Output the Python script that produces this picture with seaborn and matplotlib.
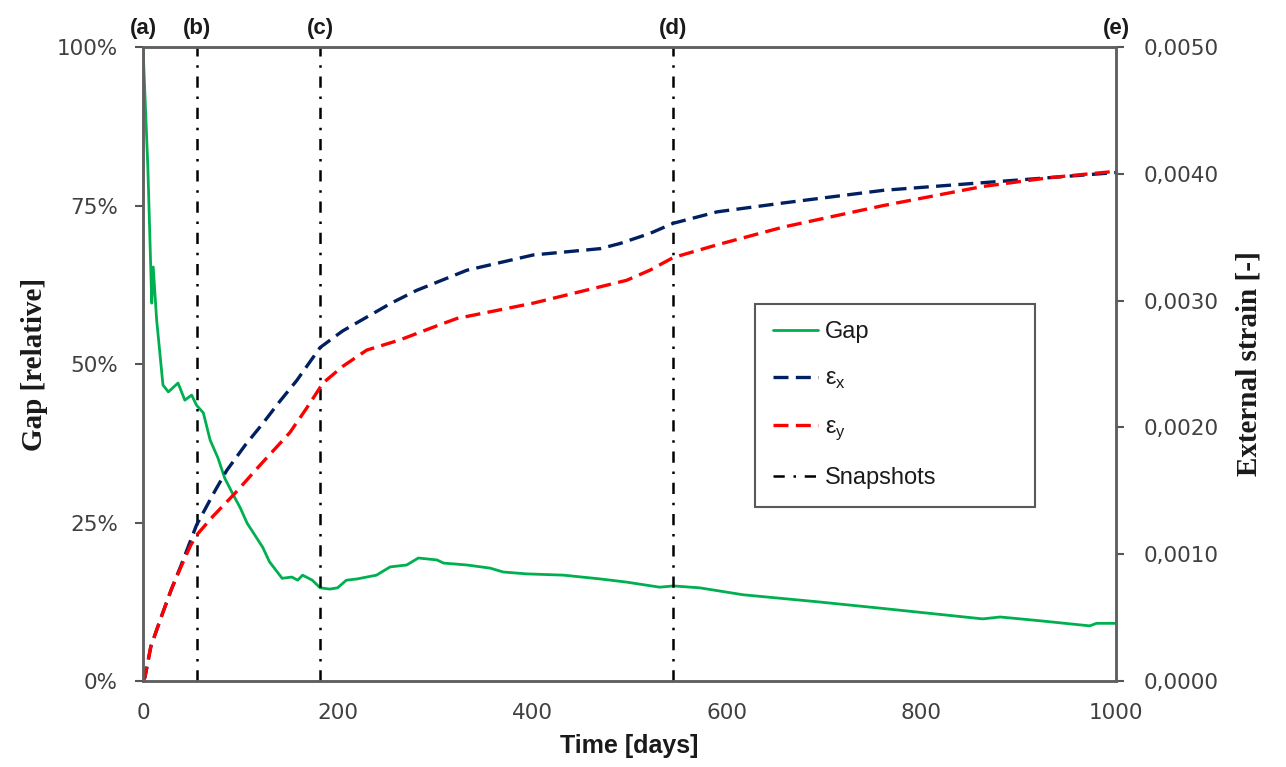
import numpy as np
import pandas as pd
import matplotlib
matplotlib.use("Agg")
import matplotlib.pyplot as plt
from matplotlib.ticker import FuncFormatter
import seaborn as sns

# Gap curve (relative, %)
gap_days = [0, 5, 9, 10.5, 14, 20.5, 26, 36, 43, 50, 55, 62, 69, 77, 84, 93, 100, 107,
            115, 123, 130, 143, 153, 159, 164, 174, 182, 192, 200, 209, 220, 240, 254,
            271, 283, 302, 309, 333, 357, 370, 394, 432, 470, 497, 531, 545, 572, 617,
            693, 757, 863, 881, 922, 973, 980, 1000]
gap_pct = [100, 81, 59.6, 65.3, 57, 46.7, 45.6, 47, 44.3, 45.1, 43.5, 42.3, 38, 35.2,
           32, 29.3, 27.3, 24.9, 23, 21.1, 18.8, 16.2, 16.4, 15.9, 16.7, 15.9, 14.7,
           14.5, 14.7, 15.9, 16.1, 16.7, 18.0, 18.3, 19.4, 19.1, 18.6, 18.3, 17.8, 17.2,
           16.9, 16.7, 16.1, 15.6, 14.8, 15.0, 14.7, 13.6, 12.5, 11.5, 9.8, 10.1, 9.5,
           8.7, 9.1, 9.1]

# External strain, x direction
ex_days = [0, 2, 8, 18.5, 29, 39, 49, 55, 74, 86, 105, 123, 140, 158, 182, 205, 230,
           255, 281, 333, 401, 470, 490, 521, 545, 590, 658, 761, 863, 932, 1000]
ex_strain = [0, 0.00003, 0.00027, 0.0005, 0.00072, 0.00091, 0.00111, 0.00123, 0.0015,
             0.00166, 0.00186, 0.00203, 0.0022, 0.00237, 0.00263, 0.00276, 0.00287,
             0.00298, 0.00308, 0.00324, 0.00336, 0.00341, 0.00345, 0.00353, 0.00361,
             0.0037, 0.00377, 0.00387, 0.00393, 0.00397, 0.00401]

# External strain, y direction
ey_days = [0, 2, 8, 18.5, 29, 39, 49, 55, 72, 94.5, 120, 151, 168, 185, 205, 230, 264,
           305, 323, 401, 497, 521, 545, 590, 658, 761, 863, 932, 1000]
ey_strain = [0, 0.00003, 0.00027, 0.0005, 0.00072, 0.0009, 0.00107, 0.00115, 0.0013,
             0.00148, 0.0017, 0.00196, 0.00215, 0.00235, 0.00248, 0.00261, 0.00269,
             0.00281, 0.00286, 0.00298, 0.00316, 0.00324, 0.00334, 0.00344, 0.00358,
             0.00375, 0.0039, 0.00397, 0.00402]

snap_days = [55, 182, 545]
snap_labels = ["(a)", "(b)", "(c)", "(d)", "(e)"]
snap_label_days = [0, 55, 182, 545, 1000]

left_ticks = [0, 25, 50, 75, 100]
right_ticks = [0, 0.001, 0.002, 0.003, 0.004, 0.005]
x_ticks = [0, 200, 400, 600, 800, 1000]

sns.set_style("white")
plt.rcParams["font.family"] = ["DejaVu Sans"]
plt.rcParams["mathtext.fontset"] = "custom"
plt.rcParams["mathtext.rm"] = "Liberation Sans"

gap_df = pd.DataFrame({"day": gap_days, "gap": gap_pct})
ex_df = pd.DataFrame({"day": ex_days, "strain": ex_strain})
ey_df = pd.DataFrame({"day": ey_days, "strain": ey_strain})

fig = plt.figure(figsize=(12.86, 7.67), dpi=100)
ax = fig.add_axes([0.1112, 0.1121, 0.7566, 0.8266])
ax2 = ax.twinx()

sns.lineplot(data=gap_df, x="day", y="gap", ax=ax, color="#00B050", linewidth=2.0,
             estimator=None, sort=False, label="Gap", legend=False)
sns.lineplot(data=ex_df, x="day", y="strain", ax=ax2, color="#002060", linewidth=2.4,
             estimator=None, linestyle=(0, (4.5, 2.2)), label="ε$_\\mathregular{x}$",
             legend=False)
sns.lineplot(data=ey_df, x="day", y="strain", ax=ax2, color="#FF0000", linewidth=2.4,
             estimator=None, linestyle=(0, (4.5, 2.2)), label="ε$_\\mathregular{y}$",
             legend=False)
for i, d in enumerate(snap_days):
    ax.axvline(d, color="black", linewidth=1.8, linestyle=(0, (4.5, 3.5, 1, 3.5)),
               label="Snapshots" if i == 0 else None)

ax.set_xlim(0, 1000)
ax.set_ylim(0, 100)
ax2.set_ylim(0, 0.005)
ax.set_xticks(x_ticks)
ax.set_yticks(left_ticks)
ax2.set_yticks(right_ticks)
ax.yaxis.set_major_formatter(FuncFormatter(lambda v, p: f"{v:.0f}%"))
ax2.yaxis.set_major_formatter(FuncFormatter(lambda v, p: f"{v:.4f}".replace(".", ",")))

tick_col = "#404040"
for a in (ax, ax2):
    a.tick_params(direction="out", length=6, width=1.5, colors="#555555",
                  labelcolor=tick_col, labelsize=15.5)
    for s in a.spines.values():
        s.set_color("#606060")
        s.set_linewidth(1.8)
ax.tick_params(axis="y", pad=12)
ax2.tick_params(axis="y", pad=14)
ax.tick_params(axis="x", pad=10)

ax.set_xlabel("Time [days]", fontsize=18, fontweight="bold", family="Liberation Sans",
              color="#1a1a1a", labelpad=8)
ax.set_ylabel("Gap [relative]", fontsize=21, fontweight="bold", family="Liberation Serif",
              color="#1a1a1a", labelpad=6)
ax2.set_ylabel("External strain [-]", fontsize=21, fontweight="bold",
               family="Liberation Serif", color="#1a1a1a", labelpad=12)

for d, lab in zip(snap_label_days, snap_labels):
    ax.text(d, 101.2, lab, ha="center", va="bottom", fontsize=16, fontweight="bold",
            color="#1a1a1a", family="Liberation Sans")

h1, l1 = ax.get_legend_handles_labels()
h2, l2 = ax2.get_legend_handles_labels()
handles = [h1[0], h2[0], h2[1], h1[1]]
labels = [l1[0], l2[0], l2[1], l1[1]]
leg = ax2.legend(handles, labels, loc="upper left", bbox_to_anchor=(0.629, 0.595, 0.288, 0.0),
                 mode="expand", borderaxespad=0, frameon=True, fancybox=False,
                 edgecolor="#303030", labelspacing=1.05, handlelength=1.9,
                 handletextpad=0.3, borderpad=0.75,
                 prop={"family": "Liberation Sans", "size": 17})
leg.get_frame().set_linewidth(1.5)
for t in leg.get_texts():
    t.set_color("#1a1a1a")

fig.savefig("out.png", dpi=100)
